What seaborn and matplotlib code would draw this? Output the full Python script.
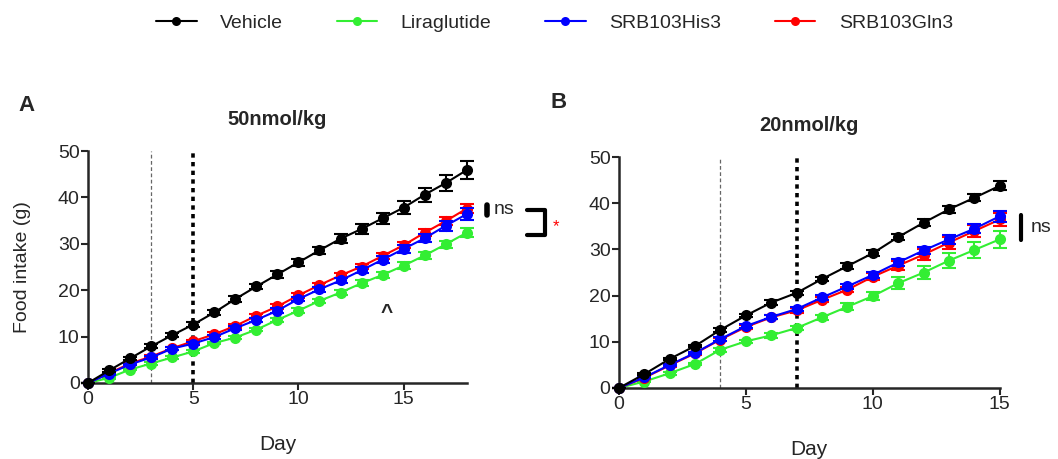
import numpy as np
import pandas as pd
import seaborn as sns
import matplotlib.pyplot as plt
from matplotlib.lines import Line2D

# Группы и цвета
groups = ['Vehicle', 'Liraglutide', 'SRB103His3', 'SRB103Gln3']
colors = {'Vehicle': '#000000', 'Liraglutide': '#33EE33',
          'SRB103His3': '#0000FF', 'SRB103Gln3': '#FF0000'}

# Панель A: 50 nmol/kg, дни 0-18
days_a = list(range(19))
vehicle_a = [0, 2.7, 5.3, 7.9, 10.3, 12.6, 15.2, 18.1, 20.8, 23.4, 26.0, 28.6, 31.1, 33.2, 35.5, 37.8, 40.6, 43.1, 45.9]
lira_a = [0, 1.1, 2.9, 4.2, 5.5, 6.8, 8.6, 9.8, 11.5, 13.6, 15.6, 17.7, 19.5, 21.5, 23.3, 25.3, 27.5, 29.9, 32.4]
his3_a = [0, 2.0, 4.0, 5.5, 7.4, 8.5, 9.9, 11.8, 13.6, 15.6, 18.1, 20.2, 22.1, 24.3, 26.6, 28.9, 31.2, 33.9, 36.4]
gln3_a = [0, 2.1, 4.2, 5.7, 7.5, 9.0, 10.5, 12.3, 14.5, 16.5, 18.9, 21.1, 23.2, 25.1, 27.4, 29.7, 32.4, 34.9, 37.6]
sem_vehicle_a = [0, 0.3, 0.3, 0.4, 0.4, 0.5, 0.5, 0.6, 0.6, 0.7, 0.7, 0.8, 1.0, 1.1, 1.2, 1.4, 1.5, 1.7, 1.9]
sem_lira_a = [0, 0.2, 0.2, 0.3, 0.3, 0.3, 0.3, 0.4, 0.4, 0.4, 0.5, 0.5, 0.5, 0.6, 0.6, 0.7, 0.7, 0.8, 1.0]
sem_his3_a = [0, 0.2, 0.2, 0.3, 0.3, 0.3, 0.4, 0.4, 0.4, 0.5, 0.5, 0.5, 0.6, 0.6, 0.7, 0.8, 0.9, 1.1, 1.3]
sem_gln3_a = [0, 0.2, 0.2, 0.3, 0.3, 0.3, 0.4, 0.4, 0.4, 0.5, 0.5, 0.5, 0.6, 0.6, 0.7, 0.7, 0.8, 0.9, 1.0]

# Панель B: 20 nmol/kg, дни 0-15
days_b = list(range(16))
vehicle_b = [0, 3.0, 6.3, 9.1, 12.6, 15.7, 18.5, 20.6, 23.6, 26.4, 29.2, 32.7, 35.8, 38.7, 41.2, 43.8]
lira_b = [0, 1.4, 3.2, 5.2, 8.3, 10.1, 11.4, 13.0, 15.3, 17.6, 19.9, 22.7, 25.0, 27.6, 29.9, 32.2]
his3_b = [0, 2.3, 5.0, 7.6, 10.6, 13.4, 15.4, 17.1, 19.6, 22.0, 24.5, 27.2, 29.8, 32.2, 34.5, 37.2]
gln3_b = [0, 2.2, 4.9, 7.5, 10.5, 13.2, 15.3, 16.8, 19.1, 21.3, 24.1, 26.5, 28.9, 31.5, 34.0, 36.5]
sem_vehicle_b = [0, 0.2, 0.3, 0.3, 0.4, 0.4, 0.5, 0.5, 0.5, 0.6, 0.6, 0.6, 0.7, 0.7, 0.8, 1.0]
sem_lira_b = [0, 0.2, 0.3, 0.3, 0.4, 0.4, 0.5, 0.5, 0.6, 0.7, 0.8, 1.3, 1.4, 1.6, 1.7, 1.8]
sem_his3_b = [0, 0.2, 0.3, 0.3, 0.4, 0.4, 0.4, 0.5, 0.5, 0.6, 0.6, 0.7, 0.8, 1.0, 1.0, 1.2]
sem_gln3_b = [0, 0.2, 0.3, 0.3, 0.4, 0.4, 0.4, 0.5, 0.5, 0.6, 0.7, 1.0, 1.2, 1.3, 1.4, 1.5]


def to_long(days, series, sems):
    rows = []
    for g, vals, errs in zip(groups, series, sems):
        for d, v, e in zip(days, vals, errs):
            rows.append({'Day': d, 'Food': v, 'SEM': e, 'Group': g})
    return pd.DataFrame(rows)


df_a = to_long(days_a, [vehicle_a, lira_a, his3_a, gln3_a],
               [sem_vehicle_a, sem_lira_a, sem_his3_a, sem_gln3_a])
df_b = to_long(days_b, [vehicle_b, lira_b, his3_b, gln3_b],
               [sem_vehicle_b, sem_lira_b, sem_his3_b, sem_gln3_b])

sns.set_style('ticks')
plt.rcParams['font.family'] = ['Liberation Sans', 'DejaVu Sans']

fig = plt.figure(figsize=(10.58, 4.59), dpi=100)
ax_a = fig.add_axes([0.0832, 0.1656, 0.358, 0.5054])
ax_b = fig.add_axes([0.585, 0.1547, 0.360, 0.503])

draw_order = ['Liraglutide', 'SRB103Gln3', 'SRB103His3', 'Vehicle']


def draw_panel(ax, df, xmax, thin_x, thick_x, title):
    ax.axvline(thin_x, color='#666666', lw=0.9, ls=(0, (3, 2)), zorder=1)
    ax.axvline(thick_x, color='black', lw=2.6, ls=(0, (1.2, 1.2)), zorder=1)
    for z, g in enumerate(draw_order):
        sub = df[df['Group'] == g]
        ax.errorbar(sub['Day'], sub['Food'], yerr=sub['SEM'], fmt='none',
                    ecolor=colors[g], elinewidth=1.5, capsize=5, capthick=1.5,
                    zorder=2 + z * 2, clip_on=False)
        sns.lineplot(data=sub, x='Day', y='Food', color=colors[g], marker='o',
                     markersize=8, markeredgewidth=0, linewidth=1.5,
                     ax=ax, legend=False, zorder=3 + z * 2, clip_on=False)
    ax.set_xlim(0, xmax)
    ax.set_ylim(0, 50)
    ax.set_xticks([0, 5, 10, 15])
    ax.set_yticks([0, 10, 20, 30, 40, 50])
    ax.tick_params(labelsize=14, length=5, width=1.5, pad=1)
    for s in ['left', 'bottom']:
        ax.spines[s].set_linewidth(1.8)
    sns.despine(ax=ax)
    ax.set_xlabel('Day', fontsize=15)
    ax.set_ylabel('')
    ax.xaxis.set_label_coords(0.5, -0.225)
    ax.set_title(title, fontsize=14.5, fontweight='bold', pad=19)


draw_panel(ax_a, df_a, 18, 3, 5, '50nmol/kg')
draw_panel(ax_b, df_b, 15, 4, 7, '20nmol/kg')

ax_a.set_ylabel('Food intake (g)', fontsize=14)
ax_a.yaxis.set_label_coords(-0.15, 0.5)

# Аннотации статистики
ax_a.plot([18.95, 18.95], [36.2, 38.4], color='black', lw=4, clip_on=False, solid_capstyle='round')
ax_a.text(19.3, 37.3, 'ns', fontsize=14, va='center', ha='left')
ax_a.plot([20.85, 21.7, 21.7, 20.85], [37.3, 37.3, 32.0, 32.0], color='black', lw=3, clip_on=False)
ax_a.text(22.1, 33.6, '*', fontsize=12, color='red', va='center', ha='left')
ax_a.text(14.2, 15.2, '^', fontsize=15, fontweight='bold', ha='center', va='center')

ax_b.plot([15.85, 15.85], [32.0, 37.4], color='black', lw=3, clip_on=False)
ax_b.text(16.2, 34.8, 'ns', fontsize=14, va='center', ha='left')

fig.text(0.017, 0.771, 'A', fontsize=16, fontweight='bold', va='center')
fig.text(0.520, 0.776, 'B', fontsize=16, fontweight='bold', va='center')

handles = [Line2D([0], [0], color=colors[g], marker='o', markersize=6.5,
                  markeredgewidth=0, lw=1.5) for g in groups]
fig.legend(handles, groups, loc='center', bbox_to_anchor=(0.524, 0.95), ncol=4,
           frameon=False, fontsize=14, handlelength=2.1, handletextpad=1.2,
           columnspacing=2.75)

plt.savefig('out.png', dpi=100)
